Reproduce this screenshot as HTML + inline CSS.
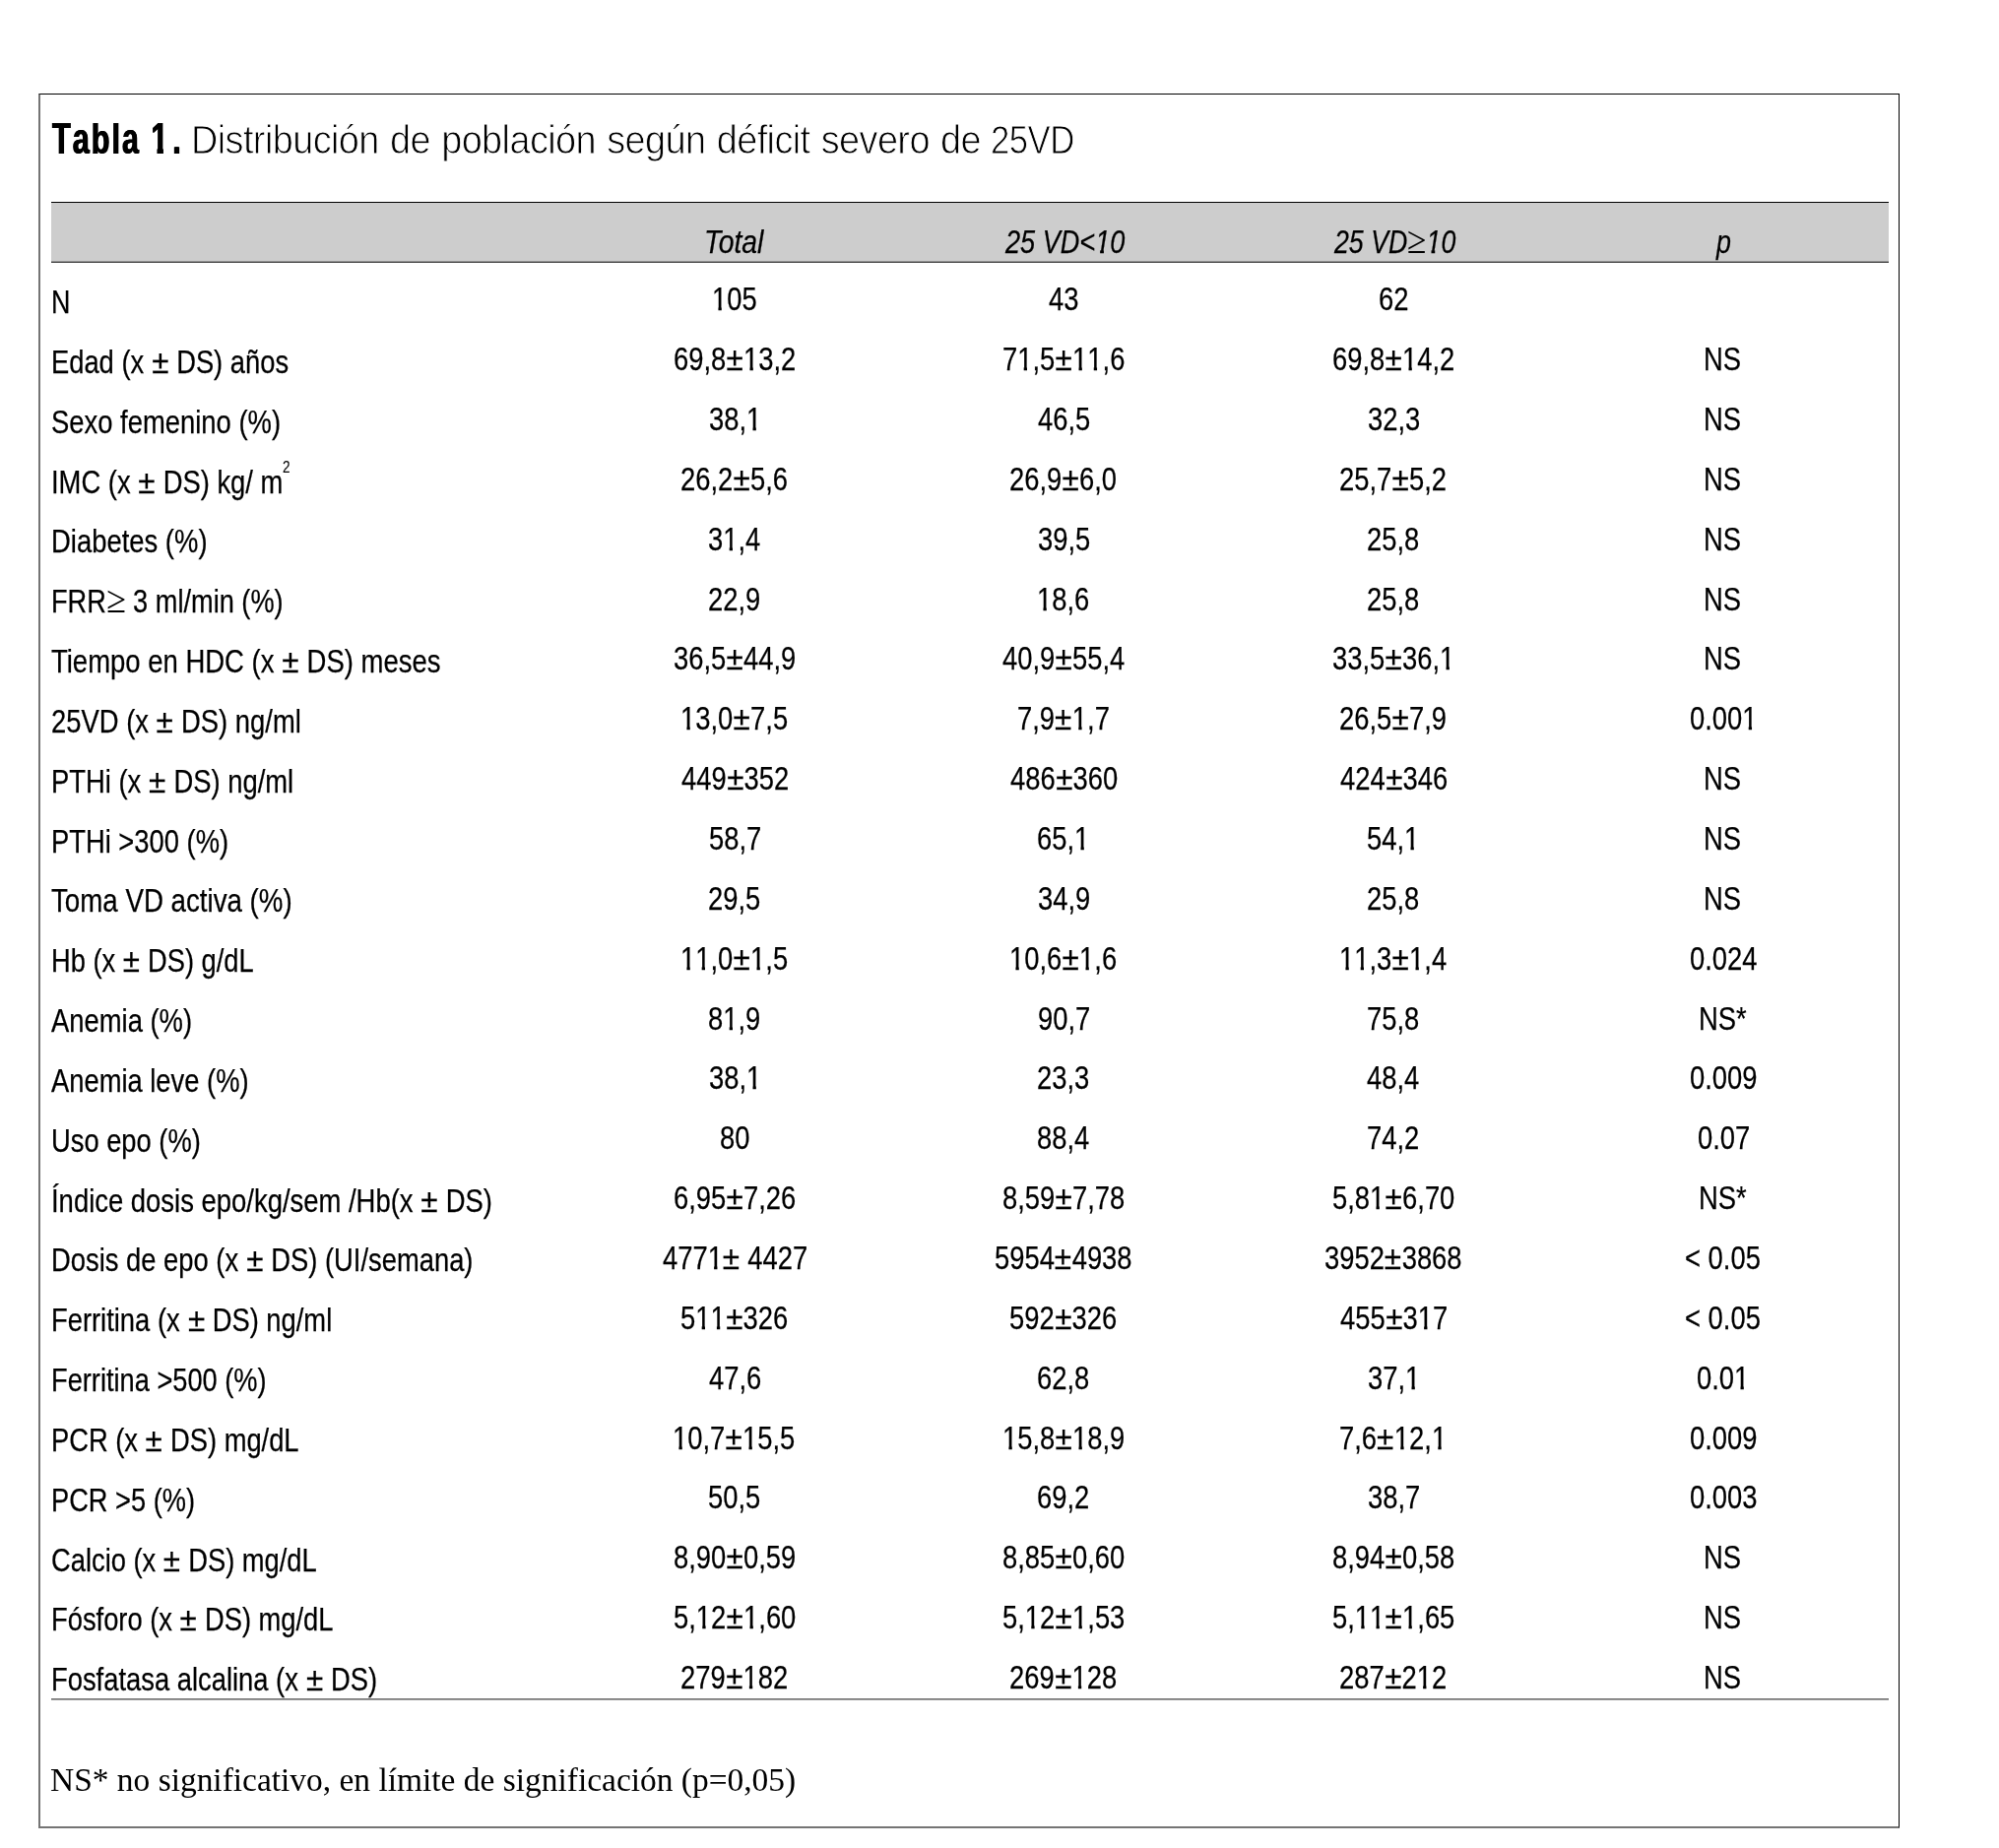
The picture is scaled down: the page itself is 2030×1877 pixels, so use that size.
<!DOCTYPE html>
<html lang="es"><head><meta charset="utf-8"><title>Tabla 1</title>
<style>
html,body{margin:0;padding:0;background:#fff}
body{width:2030px;height:1877px;position:relative;overflow:hidden;font-family:'Liberation Sans', sans-serif;color:#000}
#w{position:absolute;left:0;top:0;width:2030px;height:1877px;background:#fff;will-change:transform}
.t{position:absolute;white-space:pre;line-height:50px;transform-origin:0 0;color:#000;-webkit-text-stroke:0.25px #000}
.pm{display:inline-block;transform:scaleX(1.15);margin:0 1.7px}
.ge{display:inline-block;font-family:'Liberation Serif',serif;font-style:normal;font-size:1.19em;transform:scaleX(1.12);margin:0 1.2px;-webkit-text-stroke:0}
.o{display:inline-block;clip-path:polygon(-2px -5px,22px -5px,22px 33px,12px 33px,12px 60px,7.9px 60px,7.9px 33px,-2px 33px)}.oi{display:inline-block;clip-path:polygon(-2px -5px,26px -5px,26px 33px,10.6px 33px,10.6px 60px,6px 60px,6px 33px,-2px 33px)}.ob{display:inline-block;clip-path:polygon(-3px -5px,30px -5px,30px 35px,17.9px 35px,17.9px 60px,9.3px 60px,9.3px 35px,-3px 35px)}
.b{position:absolute}
</style></head>
<body>
<div id="w">

<div class="b" style="left:39px;top:95px;width:1890px;height:1762px;box-sizing:border-box;border-left:2px solid #747474;border-top:1px solid #000;border-right:1px solid #000;border-bottom:2px solid #747474"></div>
<div class="b" style="left:52px;top:205px;width:1866px;height:62px;background:#cdcdcd"></div>
<div class="b" style="left:52px;top:205px;width:1866px;height:1px;background:#000"></div>
<div class="b" style="left:52px;top:265px;width:1866px;height:1px;background:#909090"></div>
<div class="b" style="left:52px;top:266px;width:1866px;height:1px;background:#464646"></div>
<div class="b" style="left:52px;top:1725px;width:1866px;height:1px;background:#747474"></div>
<div class="b" style="left:52px;top:1726px;width:1866px;height:1px;background:#9a9a9a"></div>

<div class="t" style="left:52.53px;top:116px;font-size:44.9px;font-weight:bold;font-kerning:none;letter-spacing:2.9px;text-shadow:0.7px 0 0 #000,-0.7px 0 0 #000;-webkit-text-stroke:0;transform:scaleX(0.6824)">Ta<span style="display:inline-block;transform:scaleY(0.955);transform-origin:0 40px">bl</span>a <span class="ob">1</span><span style="margin-left:4px">.</span></div>
<div class="t" style="left:194.48px;top:117px;font-size:40.6px;-webkit-text-stroke:0.9px #fff;letter-spacing:-0.62px;word-spacing:1.4px;transform:scaleX(0.9326)">Distribución de población según déficit severo de</div>
<div class="t" style="left:1005.50px;top:117px;font-size:40.6px;-webkit-text-stroke:0.9px #fff;letter-spacing:-0.62px;transform:scaleX(0.8553)">25VD</div>
<div class="t" style="left:715.20px;top:221px;font-size:32.8px;font-style:italic;transform:scaleX(0.8640)">Total</div>
<div class="t" style="left:1020.78px;top:221px;font-size:32.8px;font-style:italic;transform:scaleX(0.8265)">25 VD&lt;<span class="oi">1</span>0</div>
<div class="t" style="left:1354.77px;top:219px;font-size:32.8px;font-style:italic;transform:scaleX(0.8143)">25 VD<span class="ge">≥</span><span class="oi">1</span>0</div>
<div class="t" style="left:1743.32px;top:221px;font-size:32.8px;font-style:italic;transform:scaleX(0.8182)">p</div>
<div class="t" style="left:51.70px;top:282px;font-size:32.8px;transform:scaleX(0.8190)">N</div>
<div class="t" style="left:722.77px;top:279px;font-size:33.6px;transform:scaleX(0.8150)"><span class="o">1</span>05</div>
<div class="t" style="left:1065.06px;top:279px;font-size:33.6px;transform:scaleX(0.8150)">43</div>
<div class="t" style="left:1399.79px;top:279px;font-size:33.6px;transform:scaleX(0.8150)">62</div>
<div class="t" style="left:51.70px;top:343px;font-size:32.8px;transform:scaleX(0.8331)">Edad (x <span class="pm">±</span> DS) años</div>
<div class="t" style="left:683.79px;top:340px;font-size:33.6px;transform:scaleX(0.8150)">69,8<span class="pm">±</span><span class="o">1</span>3,2</div>
<div class="t" style="left:1017.65px;top:340px;font-size:33.6px;transform:scaleX(0.8150)">7<span class="o">1</span>,5<span class="pm">±</span><span class="o">1</span><span class="o">1</span>,6</div>
<div class="t" style="left:1352.79px;top:340px;font-size:33.6px;transform:scaleX(0.8150)">69,8<span class="pm">±</span><span class="o">1</span>4,2</div>
<div class="t" style="left:1730.38px;top:340px;font-size:32.8px;transform:scaleX(0.8350)">NS</div>
<div class="t" style="left:51.70px;top:404px;font-size:32.8px;transform:scaleX(0.8356)">Sexo femenino (%)</div>
<div class="t" style="left:719.51px;top:401px;font-size:33.6px;transform:scaleX(0.8150)">38,<span class="o">1</span></div>
<div class="t" style="left:1053.65px;top:401px;font-size:33.6px;transform:scaleX(0.8150)">46,5</div>
<div class="t" style="left:1388.51px;top:401px;font-size:33.6px;transform:scaleX(0.8150)">32,3</div>
<div class="t" style="left:1730.38px;top:401px;font-size:32.8px;transform:scaleX(0.8350)">NS</div>
<div class="t" style="left:51.70px;top:465px;font-size:32.8px;transform:scaleX(0.8346)">IMC (x <span class="pm">±</span> DS) kg/ m</div>
<div class="t" style="left:691.26px;top:462px;font-size:33.6px;transform:scaleX(0.8150)">26,2<span class="pm">±</span>5,6</div>
<div class="t" style="left:1025.26px;top:462px;font-size:33.6px;transform:scaleX(0.8150)">26,9<span class="pm">±</span>6,0</div>
<div class="t" style="left:1360.39px;top:462px;font-size:33.6px;transform:scaleX(0.8150)">25,7<span class="pm">±</span>5,2</div>
<div class="t" style="left:1730.38px;top:462px;font-size:32.8px;transform:scaleX(0.8350)">NS</div>
<div class="t" style="left:51.70px;top:525px;font-size:32.8px;transform:scaleX(0.8363)">Diabetes (%)</div>
<div class="t" style="left:719.24px;top:523px;font-size:33.6px;transform:scaleX(0.8150)">3<span class="o">1</span>,4</div>
<div class="t" style="left:1053.51px;top:523px;font-size:33.6px;transform:scaleX(0.8150)">39,5</div>
<div class="t" style="left:1388.24px;top:523px;font-size:33.6px;transform:scaleX(0.8150)">25,8</div>
<div class="t" style="left:1730.38px;top:523px;font-size:32.8px;transform:scaleX(0.8350)">NS</div>
<div class="t" style="left:51.70px;top:584px;font-size:32.8px;transform:scaleX(0.8286)">FRR<span class="ge">≥</span> 3 ml/min (%)</div>
<div class="t" style="left:719.24px;top:584px;font-size:33.6px;transform:scaleX(0.8150)">22,9</div>
<div class="t" style="left:1052.97px;top:584px;font-size:33.6px;transform:scaleX(0.8150)"><span class="o">1</span>8,6</div>
<div class="t" style="left:1388.24px;top:584px;font-size:33.6px;transform:scaleX(0.8150)">25,8</div>
<div class="t" style="left:1730.38px;top:584px;font-size:32.8px;transform:scaleX(0.8350)">NS</div>
<div class="t" style="left:51.70px;top:647px;font-size:32.8px;transform:scaleX(0.8375)">Tiempo en HDC (x <span class="pm">±</span> DS) meses</div>
<div class="t" style="left:684.06px;top:644px;font-size:33.6px;transform:scaleX(0.8150)">36,5<span class="pm">±</span>44,9</div>
<div class="t" style="left:1017.92px;top:644px;font-size:33.6px;transform:scaleX(0.8150)">40,9<span class="pm">±</span>55,4</div>
<div class="t" style="left:1353.06px;top:644px;font-size:33.6px;transform:scaleX(0.8150)">33,5<span class="pm">±</span>36,<span class="o">1</span></div>
<div class="t" style="left:1730.38px;top:644px;font-size:32.8px;transform:scaleX(0.8350)">NS</div>
<div class="t" style="left:51.70px;top:708px;font-size:32.8px;transform:scaleX(0.8352)">25VD (x <span class="pm">±</span> DS) ng/ml</div>
<div class="t" style="left:690.99px;top:705px;font-size:33.6px;transform:scaleX(0.8150)"><span class="o">1</span>3,0<span class="pm">±</span>7,5</div>
<div class="t" style="left:1033.00px;top:705px;font-size:33.6px;transform:scaleX(0.8150)">7,9<span class="pm">±</span><span class="o">1</span>,7</div>
<div class="t" style="left:1360.39px;top:705px;font-size:33.6px;transform:scaleX(0.8150)">26,5<span class="pm">±</span>7,9</div>
<div class="t" style="left:1715.77px;top:705px;font-size:33.6px;transform:scaleX(0.8150)">0.00<span class="o">1</span></div>
<div class="t" style="left:51.70px;top:769px;font-size:32.8px;transform:scaleX(0.8353)">PTHi (x <span class="pm">±</span> DS) ng/ml</div>
<div class="t" style="left:691.80px;top:766px;font-size:33.6px;transform:scaleX(0.8150)">449<span class="pm">±</span>352</div>
<div class="t" style="left:1025.67px;top:766px;font-size:33.6px;transform:scaleX(0.8150)">486<span class="pm">±</span>360</div>
<div class="t" style="left:1360.67px;top:766px;font-size:33.6px;transform:scaleX(0.8150)">424<span class="pm">±</span>346</div>
<div class="t" style="left:1730.38px;top:766px;font-size:32.8px;transform:scaleX(0.8350)">NS</div>
<div class="t" style="left:51.70px;top:830px;font-size:32.8px;transform:scaleX(0.8339)">PTHi &gt;300 (%)</div>
<div class="t" style="left:719.51px;top:827px;font-size:33.6px;transform:scaleX(0.8150)">58,7</div>
<div class="t" style="left:1053.24px;top:827px;font-size:33.6px;transform:scaleX(0.8150)">65,<span class="o">1</span></div>
<div class="t" style="left:1388.38px;top:827px;font-size:33.6px;transform:scaleX(0.8150)">54,<span class="o">1</span></div>
<div class="t" style="left:1730.38px;top:827px;font-size:32.8px;transform:scaleX(0.8350)">NS</div>
<div class="t" style="left:51.70px;top:890px;font-size:32.8px;transform:scaleX(0.8444)">Toma VD activa (%)</div>
<div class="t" style="left:719.24px;top:888px;font-size:33.6px;transform:scaleX(0.8150)">29,5</div>
<div class="t" style="left:1053.51px;top:888px;font-size:33.6px;transform:scaleX(0.8150)">34,9</div>
<div class="t" style="left:1388.24px;top:888px;font-size:33.6px;transform:scaleX(0.8150)">25,8</div>
<div class="t" style="left:1730.38px;top:888px;font-size:32.8px;transform:scaleX(0.8350)">NS</div>
<div class="t" style="left:51.70px;top:951px;font-size:32.8px;transform:scaleX(0.8310)">Hb (x <span class="pm">±</span> DS) g/dL</div>
<div class="t" style="left:690.99px;top:949px;font-size:33.6px;transform:scaleX(0.8150)"><span class="o">1</span><span class="o">1</span>,0<span class="pm">±</span><span class="o">1</span>,5</div>
<div class="t" style="left:1024.99px;top:949px;font-size:33.6px;transform:scaleX(0.8150)"><span class="o">1</span>0,6<span class="pm">±</span><span class="o">1</span>,6</div>
<div class="t" style="left:1359.85px;top:949px;font-size:33.6px;transform:scaleX(0.8150)"><span class="o">1</span><span class="o">1</span>,3<span class="pm">±</span><span class="o">1</span>,4</div>
<div class="t" style="left:1715.50px;top:949px;font-size:33.6px;transform:scaleX(0.8150)">0.024</div>
<div class="t" style="left:51.70px;top:1012px;font-size:32.8px;transform:scaleX(0.8353)">Anemia (%)</div>
<div class="t" style="left:719.38px;top:1010px;font-size:33.6px;transform:scaleX(0.8150)">8<span class="o">1</span>,9</div>
<div class="t" style="left:1053.51px;top:1010px;font-size:33.6px;transform:scaleX(0.8150)">90,7</div>
<div class="t" style="left:1388.24px;top:1010px;font-size:33.6px;transform:scaleX(0.8150)">75,8</div>
<div class="t" style="left:1724.67px;top:1010px;font-size:32.8px;transform:scaleX(0.8350)">NS*</div>
<div class="t" style="left:51.70px;top:1073px;font-size:32.8px;transform:scaleX(0.8336)">Anemia leve (%)</div>
<div class="t" style="left:719.51px;top:1070px;font-size:33.6px;transform:scaleX(0.8150)">38,<span class="o">1</span></div>
<div class="t" style="left:1053.24px;top:1070px;font-size:33.6px;transform:scaleX(0.8150)">23,3</div>
<div class="t" style="left:1388.38px;top:1070px;font-size:33.6px;transform:scaleX(0.8150)">48,4</div>
<div class="t" style="left:1715.77px;top:1070px;font-size:33.6px;transform:scaleX(0.8150)">0.009</div>
<div class="t" style="left:51.70px;top:1134px;font-size:32.8px;transform:scaleX(0.8329)">Uso epo (%)</div>
<div class="t" style="left:730.65px;top:1131px;font-size:33.6px;transform:scaleX(0.8150)">80</div>
<div class="t" style="left:1053.11px;top:1131px;font-size:33.6px;transform:scaleX(0.8150)">88,4</div>
<div class="t" style="left:1388.38px;top:1131px;font-size:33.6px;transform:scaleX(0.8150)">74,2</div>
<div class="t" style="left:1723.51px;top:1131px;font-size:33.6px;transform:scaleX(0.8150)">0.07</div>
<div class="t" style="left:51.70px;top:1195px;font-size:32.8px;transform:scaleX(0.8366)">Índice dosis epo/kg/sem /Hb(x <span class="pm">±</span> DS)</div>
<div class="t" style="left:683.65px;top:1192px;font-size:33.6px;transform:scaleX(0.8150)">6,95<span class="pm">±</span>7,26</div>
<div class="t" style="left:1017.79px;top:1192px;font-size:33.6px;transform:scaleX(0.8150)">8,59<span class="pm">±</span>7,78</div>
<div class="t" style="left:1352.79px;top:1192px;font-size:33.6px;transform:scaleX(0.8150)">5,8<span class="o">1</span><span class="pm">±</span>6,70</div>
<div class="t" style="left:1724.67px;top:1192px;font-size:32.8px;transform:scaleX(0.8350)">NS*</div>
<div class="t" style="left:51.70px;top:1255px;font-size:32.8px;transform:scaleX(0.8344)">Dosis de epo (x <span class="pm">±</span> DS) (UI/semana)</div>
<div class="t" style="left:672.79px;top:1253px;font-size:33.6px;transform:scaleX(0.8150)">477<span class="o">1</span><span class="pm">±</span> 4427</div>
<div class="t" style="left:1010.18px;top:1253px;font-size:33.6px;transform:scaleX(0.8150)">5954<span class="pm">±</span>4938</div>
<div class="t" style="left:1345.32px;top:1253px;font-size:33.6px;transform:scaleX(0.8150)">3952<span class="pm">±</span>3868</div>
<div class="t" style="left:1711.42px;top:1253px;font-size:33.6px;transform:scaleX(0.8150)">&lt; 0.05</div>
<div class="t" style="left:51.70px;top:1316px;font-size:32.8px;transform:scaleX(0.8337)">Ferritina (x <span class="pm">±</span> DS) ng/ml</div>
<div class="t" style="left:691.39px;top:1314px;font-size:33.6px;transform:scaleX(0.8150)">5<span class="o">1</span><span class="o">1</span><span class="pm">±</span>326</div>
<div class="t" style="left:1025.39px;top:1314px;font-size:33.6px;transform:scaleX(0.8150)">592<span class="pm">±</span>326</div>
<div class="t" style="left:1360.80px;top:1314px;font-size:33.6px;transform:scaleX(0.8150)">455<span class="pm">±</span>3<span class="o">1</span>7</div>
<div class="t" style="left:1711.42px;top:1314px;font-size:33.6px;transform:scaleX(0.8150)">&lt; 0.05</div>
<div class="t" style="left:51.70px;top:1377px;font-size:32.8px;transform:scaleX(0.8301)">Ferritina &gt;500 (%)</div>
<div class="t" style="left:719.65px;top:1375px;font-size:33.6px;transform:scaleX(0.8150)">47,6</div>
<div class="t" style="left:1053.24px;top:1375px;font-size:33.6px;transform:scaleX(0.8150)">62,8</div>
<div class="t" style="left:1388.51px;top:1375px;font-size:33.6px;transform:scaleX(0.8150)">37,<span class="o">1</span></div>
<div class="t" style="left:1723.38px;top:1375px;font-size:33.6px;transform:scaleX(0.8150)">0.0<span class="o">1</span></div>
<div class="t" style="left:51.70px;top:1438px;font-size:32.8px;transform:scaleX(0.8329)">PCR (x <span class="pm">±</span> DS) mg/dL</div>
<div class="t" style="left:683.38px;top:1436px;font-size:33.6px;transform:scaleX(0.8150)"><span class="o">1</span>0,7<span class="pm">±</span><span class="o">1</span>5,5</div>
<div class="t" style="left:1017.52px;top:1436px;font-size:33.6px;transform:scaleX(0.8150)"><span class="o">1</span>5,8<span class="pm">±</span><span class="o">1</span>8,9</div>
<div class="t" style="left:1360.39px;top:1436px;font-size:33.6px;transform:scaleX(0.8150)">7,6<span class="pm">±</span><span class="o">1</span>2,<span class="o">1</span></div>
<div class="t" style="left:1715.77px;top:1436px;font-size:33.6px;transform:scaleX(0.8150)">0.009</div>
<div class="t" style="left:51.70px;top:1499px;font-size:32.8px;transform:scaleX(0.8302)">PCR &gt;5 (%)</div>
<div class="t" style="left:719.38px;top:1496px;font-size:33.6px;transform:scaleX(0.8150)">50,5</div>
<div class="t" style="left:1053.38px;top:1496px;font-size:33.6px;transform:scaleX(0.8150)">69,2</div>
<div class="t" style="left:1388.65px;top:1496px;font-size:33.6px;transform:scaleX(0.8150)">38,7</div>
<div class="t" style="left:1715.77px;top:1496px;font-size:33.6px;transform:scaleX(0.8150)">0.003</div>
<div class="t" style="left:51.70px;top:1560px;font-size:32.8px;transform:scaleX(0.8327)">Calcio (x <span class="pm">±</span> DS) mg/dL</div>
<div class="t" style="left:683.92px;top:1557px;font-size:33.6px;transform:scaleX(0.8150)">8,90<span class="pm">±</span>0,59</div>
<div class="t" style="left:1017.79px;top:1557px;font-size:33.6px;transform:scaleX(0.8150)">8,85<span class="pm">±</span>0,60</div>
<div class="t" style="left:1352.79px;top:1557px;font-size:33.6px;transform:scaleX(0.8150)">8,94<span class="pm">±</span>0,58</div>
<div class="t" style="left:1730.38px;top:1557px;font-size:32.8px;transform:scaleX(0.8350)">NS</div>
<div class="t" style="left:51.70px;top:1620px;font-size:32.8px;transform:scaleX(0.8329)">Fósforo (x <span class="pm">±</span> DS) mg/dL</div>
<div class="t" style="left:683.79px;top:1618px;font-size:33.6px;transform:scaleX(0.8150)">5,<span class="o">1</span>2<span class="pm">±</span><span class="o">1</span>,60</div>
<div class="t" style="left:1017.79px;top:1618px;font-size:33.6px;transform:scaleX(0.8150)">5,<span class="o">1</span>2<span class="pm">±</span><span class="o">1</span>,53</div>
<div class="t" style="left:1352.79px;top:1618px;font-size:33.6px;transform:scaleX(0.8150)">5,<span class="o">1</span><span class="o">1</span><span class="pm">±</span><span class="o">1</span>,65</div>
<div class="t" style="left:1730.38px;top:1618px;font-size:32.8px;transform:scaleX(0.8350)">NS</div>
<div class="t" style="left:51.70px;top:1681px;font-size:32.8px;transform:scaleX(0.8341)">Fosfatasa alcalina (x <span class="pm">±</span> DS)</div>
<div class="t" style="left:691.39px;top:1679px;font-size:33.6px;transform:scaleX(0.8150)">279<span class="pm">±</span><span class="o">1</span>82</div>
<div class="t" style="left:1025.26px;top:1679px;font-size:33.6px;transform:scaleX(0.8150)">269<span class="pm">±</span><span class="o">1</span>28</div>
<div class="t" style="left:1360.39px;top:1679px;font-size:33.6px;transform:scaleX(0.8150)">287<span class="pm">±</span>2<span class="o">1</span>2</div>
<div class="t" style="left:1730.38px;top:1679px;font-size:32.8px;transform:scaleX(0.8350)">NS</div>
<div class="t" style="left:286.98px;top:449px;font-size:17.4px;-webkit-text-stroke:0.1px #000;transform:scaleX(0.7800)">2</div>
<div class="t" style="left:51.48px;top:1783px;font-size:32.8px;font-family:'Liberation Serif', serif;-webkit-text-stroke:0;transform:scaleX(1.0196)">NS* no significativo, en límite de significación (p=0,05)</div>
</div>
</body></html>
